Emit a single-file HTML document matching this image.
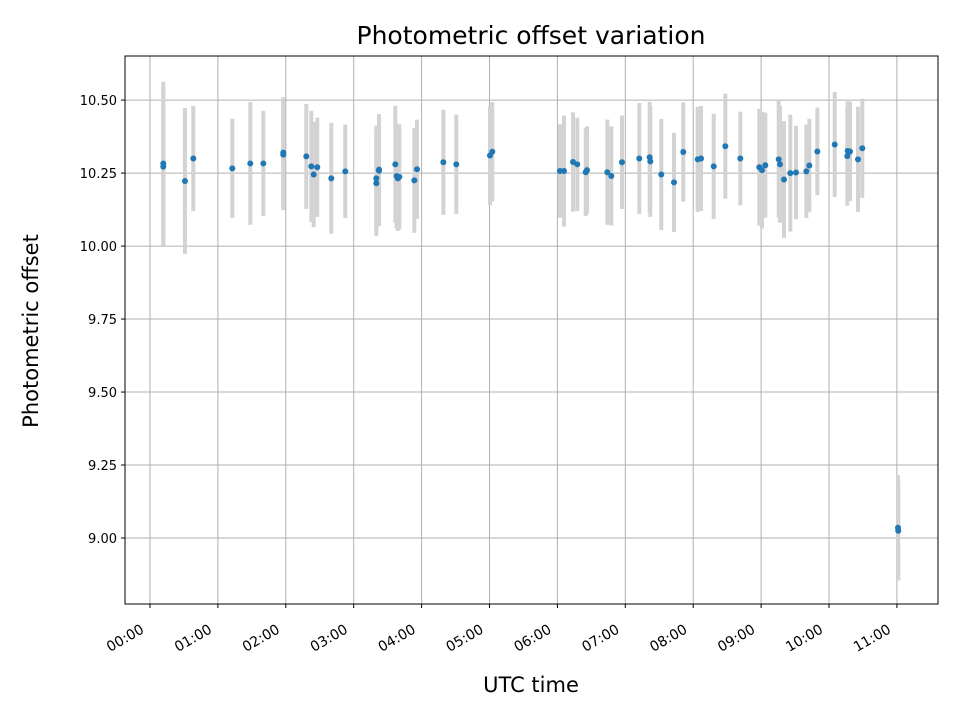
<!DOCTYPE html>
<html><head><meta charset="utf-8"><style>
body{margin:0;background:#fff;font-family:"Liberation Sans","DejaVu Sans",sans-serif}
svg text{font-family:"DejaVu Sans","Liberation Sans",sans-serif}
</style></head><body>
<svg id="chart" width="960" height="720" xmlns="http://www.w3.org/2000/svg">
<rect width="960" height="720" fill="#fff"/>
<g id="grid"></g><g id="bars"></g><g id="pts"></g><g id="axes"></g>
<text x="531" y="44" text-anchor="middle" font-size="25">Photometric offset variation</text>
<text x="531" y="692" text-anchor="middle" font-size="21">UTC time</text>
<text transform="translate(38,331) rotate(-90)" text-anchor="middle" font-size="21">Photometric offset</text>
</svg>
<script>
const timesHours=[0.196,0.196,0.515,0.638,1.212,1.477,1.669,1.963,1.963,2.302,2.376,2.411,2.464,2.670,2.876,3.333,3.333,3.373,3.373,3.613,3.633,3.672,3.650,3.893,3.932,4.320,4.511,5.007,5.041,
6.038,6.097,6.230,6.293,6.417,6.436,6.735,6.794,6.951,7.206,7.359,7.368,7.530,7.717,7.854,8.066,8.115,8.302,8.473,8.694,8.973,9.013,9.062,9.259,9.278,9.337,9.430,9.514,9.666,9.710,9.828,10.084,10.275,10.269,10.309,10.427,10.490,11.016,11.020];
const offsets=[10.283,10.272,10.223,10.300,10.266,10.283,10.283,10.313,10.320,10.307,10.273,10.245,10.270,10.232,10.256,10.232,10.215,10.262,10.258,10.280,10.240,10.237,10.232,10.225,10.263,10.287,10.280,10.310,10.323,
10.257,10.257,10.288,10.280,10.253,10.260,10.253,10.240,10.287,10.300,10.304,10.290,10.245,10.218,10.322,10.297,10.300,10.273,10.342,10.300,10.270,10.260,10.277,10.297,10.280,10.228,10.250,10.252,10.256,10.276,10.324,10.348,10.326,10.308,10.324,10.297,10.335,9.035,9.025];
const errors=[0.28,0.27,0.25,0.18,0.17,0.21,0.18,0.19,0.19,0.18,0.19,0.18,0.17,0.19,0.16,0.18,0.18,0.19,0.19,0.20,0.18,0.18,0.18,0.18,0.17,0.18,0.17,0.17,0.17,
0.16,0.19,0.17,0.16,0.15,0.15,0.18,0.17,0.16,0.19,0.19,0.19,0.19,0.17,0.17,0.18,0.18,0.18,0.18,0.16,0.20,0.20,0.18,0.20,0.20,0.20,0.20,0.16,0.16,0.16,0.15,0.18,0.17,0.17,0.17,0.18,0.17,0.18,0.17];
const xTickLabels=["00:00","01:00","02:00","03:00","04:00","05:00","06:00","07:00","08:00","09:00","10:00","11:00"];
const yTickValues=[9.00,9.25,9.50,9.75,10.00,10.25,10.50];

const L=125,R=938,T=56,B=604;
const xMin=-0.368,xMax=11.605,yMin=8.774,yMax=10.651;
const sx=v=>L+(v-xMin)/(xMax-xMin)*(R-L);
const sy=v=>B-(v-yMin)/(yMax-yMin)*(B-T);
const NS="http://www.w3.org/2000/svg";
function mk(tag,attrs,parent){const e=document.createElementNS(NS,tag);for(const k in attrs)e.setAttribute(k,attrs[k]);parent.appendChild(e);return e;}
const grid=document.getElementById('grid'),axes=document.getElementById('axes'),bars=document.getElementById('bars'),pts=document.getElementById('pts');
xTickLabels.forEach((lab,i)=>{const x=sx(i);
 const g=mk('line',{x1:x,x2:x,y1:T,y2:B,stroke:'#b0b0b0','stroke-width':1},grid);
 
 mk('line',{x1:x,x2:x,y1:B,y2:B+4,stroke:'#000','stroke-width':1},axes);
 const ax=x-5,ay=B+28;
 const t=mk('text',{x:ax,y:ay,'text-anchor':'end','font-size':14,transform:`rotate(-30 ${ax} ${ay})`},axes);
 t.textContent=lab;
});
yTickValues.forEach(v=>{const y=sy(v);
 const g=mk('line',{x1:L,x2:R,y1:y,y2:y,stroke:'#b0b0b0','stroke-width':1},grid);
 
 mk('line',{x1:L-4,x2:L,y1:y,y2:y,stroke:'#000','stroke-width':1},axes);
 const t=mk('text',{x:L-8,y:y+5,'text-anchor':'end','font-size':13},axes);
 t.textContent=v.toFixed(2);
});
const frame=mk('rect',{x:L,y:T,width:R-L,height:B-T,fill:'none',stroke:'#000','stroke-width':1},axes);

timesHours.forEach((h,i)=>{const x=sx(h);
 const b=mk('line',{x1:x,x2:x,y1:sy(offsets[i]+errors[i]),y2:sy(offsets[i]-errors[i]),stroke:'#d3d3d3','stroke-width':4},bars);
 
 const c=mk('circle',{cx:x,cy:sy(offsets[i]),r:3,fill:'#1f77b4'},pts);
 
});
</script>
</body></html>
